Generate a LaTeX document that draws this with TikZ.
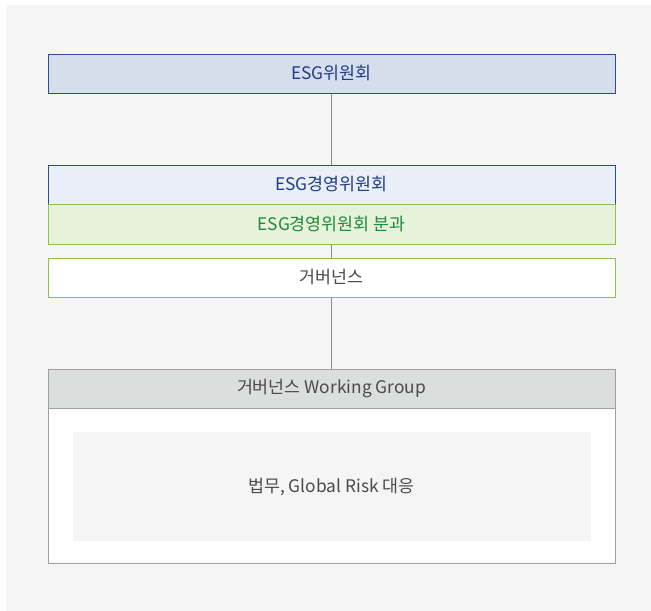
\documentclass[tikz,border=0pt]{standalone}
\usepackage{fontspec}
\setmainfont{Noto Sans CJK KR}
\usetikzlibrary{positioning}
\definecolor{bgcol}{HTML}{F5F5F5}
\definecolor{navy}{HTML}{2A4A9A}
\definecolor{navytext}{HTML}{1F3C8C}
\definecolor{topfill}{HTML}{D6DEEB}
\definecolor{mgmtfill}{HTML}{E9EEF7}
\definecolor{leaf}{HTML}{8CC152}
\definecolor{leaffill}{HTML}{E6F2D9}
\definecolor{leaftext}{HTML}{1E8A3C}
\definecolor{wgline}{HTML}{A0A0A0}
\definecolor{wgfill}{HTML}{DCDDDD}
\definecolor{graytext}{HTML}{4A4A4A}
\definecolor{linkcol}{HTML}{8A8A8A}

\begin{document}
\begin{tikzpicture}[
  x=0.75pt, y=-0.75pt,
  font=\fontsize{13pt}{15pt}\selectfont,
  box/.style={draw, line width=0.75pt, minimum width=425.25pt, minimum height=29.25pt, inner sep=0pt},
  bluebox/.style={box, draw=navy, text=navytext},
  greenbox/.style={box, draw=leaf},
  link/.style={draw=linkcol, line width=0.9pt}
]
\useasboundingbox (0,0) rectangle (651,611);
\fill[bgcol] (6,5) rectangle (651,611);

\node[bluebox, fill=topfill] (esg) at (331.5,73.5) {ESG위원회};
\node[bluebox, fill=mgmtfill] (mgmt) at (331.5,184.5) {ESG경영위원회};
\node[greenbox, fill=leaffill, text=leaftext, minimum height=30pt] (sub) at (331.5,224) {ESG경영위원회 분과};
\node[greenbox, fill=white, text=graytext] (gov) at (331.5,277.5) {거버넌스};

% working group
\node[box, draw=wgline, fill=white, minimum height=145.5pt] (wg) at (331.5,466) {};
\node[box, draw=wgline, fill=wgfill, text=graytext, anchor=north] (wghead) at (wg.north) {거버넌스 Working Group};
\node[fill=bgcol, minimum width=388.5pt, minimum height=81.75pt, inner sep=0pt, text=graytext] (wgitem) at (331.5,486.5) {법무, Global Risk 대응};

\draw[link] (esg) -- (mgmt);
\draw[link] (sub) -- (gov);
\draw[link] (gov) -- (wghead);
\end{tikzpicture}
\end{document}
